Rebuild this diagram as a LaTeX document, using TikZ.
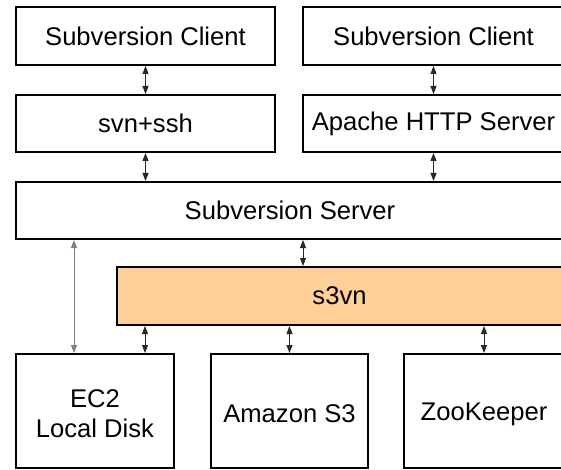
\documentclass[tikz,border=0pt]{standalone}
\usepackage{fontspec}
\setmainfont{Liberation Sans}
\usetikzlibrary{arrows.meta}
\definecolor{sorange}{RGB}{255,207,153}
\definecolor{arrgray}{RGB}{40,40,40}
\newcommand{\lowertxt}[1]{\raisebox{-3pt}[\height][\depth]{#1}}
\begin{document}
\begin{tikzpicture}[x=1pt,y=-1pt,
  box/.style={draw=black, line width=2pt, fill=white, inner sep=0pt, align=center,
    font=\fontsize{25.6}{30}\selectfont},
  link/.style={draw=arrgray, line width=0.9pt, {Triangle[length=8pt,width=6pt]}-{Triangle[length=8pt,width=6pt]}},
  longlink/.style={draw=gray, line width=0.8pt, {Triangle[length=8pt,width=6pt]}-{Triangle[length=8pt,width=6pt]}}]
\clip (0,0) rectangle (561,470);
\fill[white] (0,0) rectangle (561,470);
% top row
\node[box, minimum width=259pt, minimum height=58pt] (c1) at (145.5,36) {Subversion Client};
\node[box, minimum width=261pt, minimum height=58pt] (c2) at (433.5,36) {Subversion Client};
\node[box, minimum width=259pt, minimum height=57pt] (ssh) at (145.5,123.5) {svn+ssh};
\node[box, minimum width=261pt, minimum height=57pt] (apache) at (433.5,123.5) {Apache HTTP Server};
\node[box, minimum width=548pt, minimum height=57pt] (server) at (290,210.5) {Subversion Server};
\node[box, fill=sorange, minimum width=445pt, minimum height=58pt] (s3vn) at (339.5,296) {s3vn};
\node[box, minimum width=158pt, minimum height=114pt] (ec2) at (95,411) {\lowertxt{EC2}\\\lowertxt{Local Disk}};
\node[box, minimum width=157pt, minimum height=114pt] (s3) at (289.5,411) {\lowertxt{Amazon S3}};
\node[box, minimum width=160pt, minimum height=114pt] (zk) at (484,411) {\lowertxt{ZooKeeper}};
% helper coordinates
\coordinate (xs3vn) at (303,0);
\coordinate (xec2) at (74,0);
\coordinate (xloc) at (145,0);
% connectors
\draw[link] (c1.south) -- (ssh.north);
\draw[link] (c2.south) -- (apache.north);
\draw[link] (ssh.south) -- (ssh.south |- server.north);
\draw[link] (apache.south) -- (apache.south |- server.north);
\draw[link] (server.south -| xs3vn) -- (s3vn.north -| xs3vn);
\draw[longlink] (server.south -| xec2) -- (ec2.north -| xec2);
\draw[link] (s3vn.south -| xloc) -- (ec2.north -| xloc);
\draw[link] (s3vn.south -| s3.north) -- (s3.north);
\draw[link] (s3vn.south -| zk.north) -- (zk.north);
\end{tikzpicture}
\end{document}
